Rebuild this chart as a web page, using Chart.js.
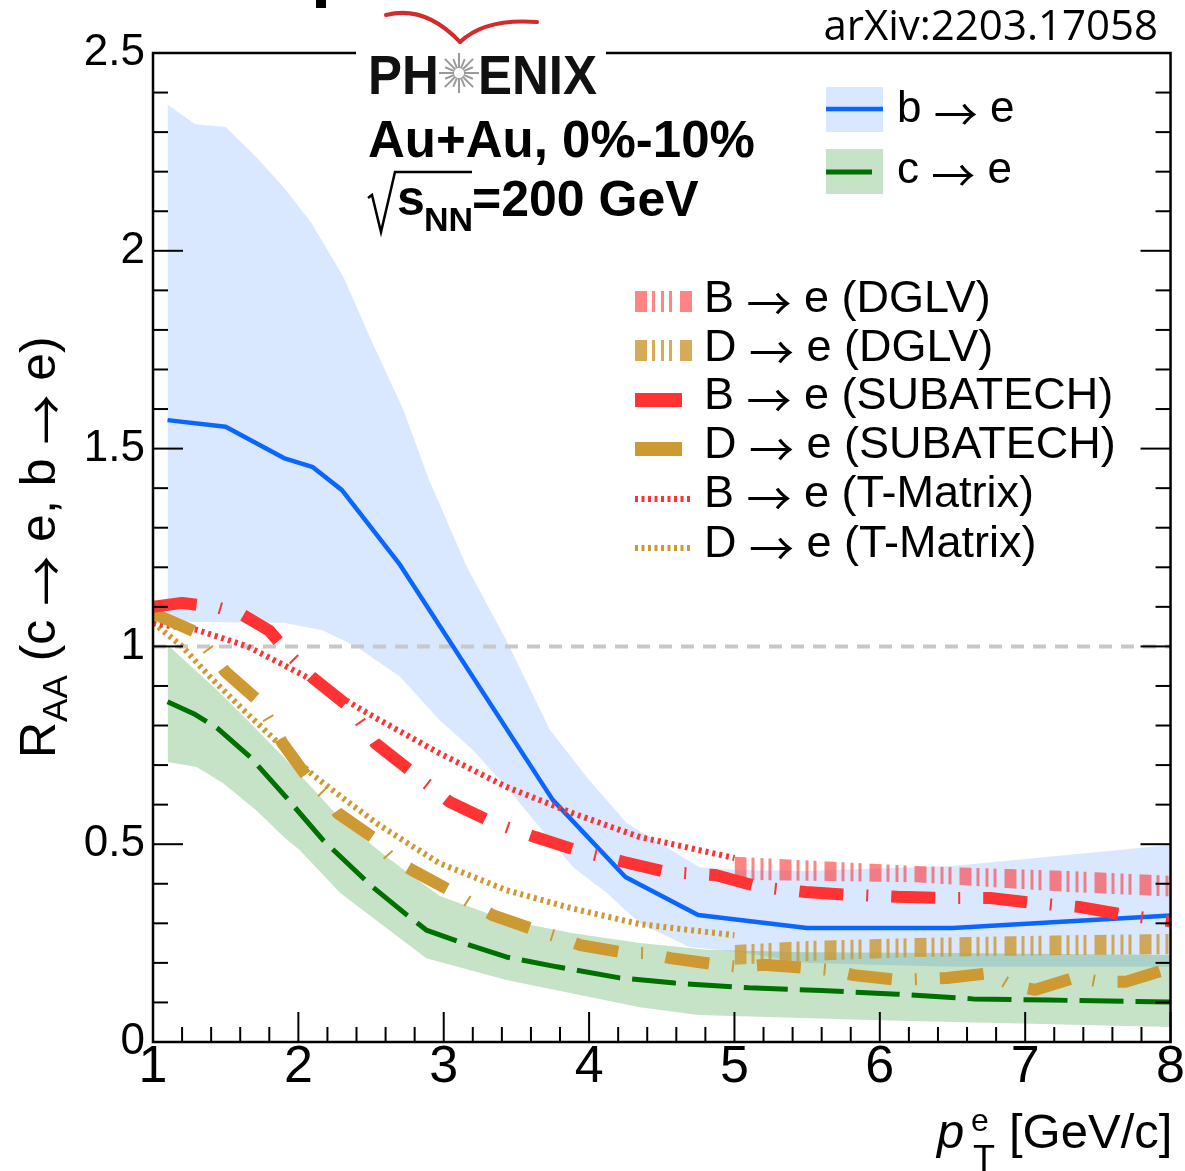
<!DOCTYPE html>
<html><head><meta charset="utf-8">
<script src="https://cdn.jsdelivr.net/npm/chart.js@4.4.0/dist/chart.umd.min.js"></script>
<style>html,body{margin:0;padding:0;background:#fff;}canvas{display:block;}</style>
</head><body>
<canvas id="c" width="1185" height="1171"></canvas>
<script>
// ---------------- data ----------------
const xTickLabels = ['1','2','3','4','5','6','7','8'];
const yTickLabels = ['0','0.5','1','1.5','2','2.5'];

// b -> e measured (PHENIX), central value and band
const bLineX = [1.1,1.5,1.9,2.1,2.3,2.7,3.75,4.25,4.75,5.5,6.5,8];
const bLineY = [1.572,1.555,1.476,1.453,1.395,1.206,0.612,0.417,0.321,0.288,0.288,0.32];
const bBandUpX = [1.1,1.29,1.5,1.71,1.9,2.09,2.31,2.51,2.72,2.9,3.16,3.43,3.73,4.0,4.26,4.76,5.04,5.5,6.5,8];
const bBandUpY = [2.37,2.32,2.313,2.237,2.16,2.07,1.934,1.767,1.6,1.42,1.2,1.016,0.789,0.662,0.553,0.442,0.435,0.432,0.445,0.498];
const bBandLoX = [1.1,1.9,2.17,2.4,2.7,2.97,3.2,3.43,3.66,3.89,4.12,4.35,4.69,5.04,5.5,6.5,8];
const bBandLoY = [1.062,1.06,1.04,0.999,0.923,0.814,0.738,0.645,0.543,0.442,0.377,0.30,0.24,0.227,0.2,0.19,0.19];

// c -> e measured
const cLineX = [1.1,1.28,1.44,1.67,1.92,2.17,2.51,2.75,2.88,3.11,3.43,3.78,4.21,4.59,5.1,5.6,6.12,6.64,7.16,8];
const cLineY = [0.86,0.83,0.794,0.72,0.617,0.51,0.392,0.32,0.283,0.253,0.215,0.19,0.162,0.149,0.137,0.13,0.121,0.109,0.106,0.101];
const cBandUpX = [1.1,1.44,1.67,1.9,2.1,2.3,2.6,2.8,2.97,3.43,3.89,4.35,4.81,5.5,6.5,8];
const cBandUpY = [1.004,0.89,0.806,0.72,0.64,0.56,0.47,0.415,0.37,0.308,0.275,0.25,0.233,0.227,0.225,0.22];
const cBandLoX = [1.1,1.3,1.48,1.71,1.9,2.01,2.29,2.88,3.43,4.35,4.75,6,8];
const cBandLoY = [0.708,0.695,0.655,0.586,0.518,0.485,0.376,0.212,0.157,0.088,0.068,0.055,0.038];

// DGLV bands
const bDglvX = [5,6.25,7.3,8];
const bDglvUp = [0.468,0.445,0.432,0.42];
const bDglvLo = [0.41,0.404,0.379,0.368];
const dDglvX = [5,5.5,6.25,7.3,8];
const dDglvUp = [0.245,0.255,0.263,0.27,0.273];
const dDglvLo = [0.195,0.205,0.215,0.22,0.222];

// SUBATECH
const bSubX = [1.0,1.2,1.45,1.62,1.8,1.95,2.1,2.36,2.53,2.79,3.04,3.33,3.63,3.91,4.24,4.53,4.87,5.17,5.49,5.79,6.12,6.43,6.76,7.07,7.38,7.69,8.0];
const bSubY = [1.10,1.11,1.098,1.079,1.04,0.975,0.92,0.844,0.755,0.68,0.607,0.556,0.518,0.485,0.455,0.43,0.422,0.392,0.379,0.372,0.367,0.364,0.364,0.351,0.341,0.321,0.305];
const dSubX = [1.0,1.29,1.39,1.5,1.72,1.8,1.89,2.06,2.17,2.27,2.51,2.63,2.78,3.06,3.19,3.34,3.63,3.78,3.94,4.24,4.4,4.56,4.87,5.03,5.2,5.5,5.66,5.82,6.12,6.46,6.76,6.9,7.07,7.35,7.52,7.69,8.0];
const dSubY = [1.084,1.037,0.987,0.935,0.864,0.814,0.756,0.67,0.63,0.579,0.518,0.468,0.435,0.38,0.35,0.32,0.283,0.266,0.245,0.226,0.225,0.212,0.196,0.19,0.195,0.187,0.182,0.169,0.157,0.162,0.174,0.144,0.132,0.164,0.152,0.152,0.187];

// T-Matrix
const bTmX = [1.0,1.3,1.65,2.03,2.5,2.97,3.43,3.89,4.35,4.6,5.0];
const bTmY = [1.058,1.042,1.0,0.928,0.826,0.73,0.645,0.578,0.518,0.498,0.465];
const dTmX = [1.0,1.2,1.4,1.62,1.85,2.1,2.33,2.55,2.75,2.97,3.43,3.89,4.35,4.6,5.0];
const dTmY = [1.06,1.0,0.92,0.84,0.76,0.675,0.61,0.55,0.503,0.452,0.384,0.337,0.298,0.287,0.27];

const unityX = [1, 8];
const unityY = [1, 1];

// legend texts: [particle, rest] joined by an arrow
const legendTop = [['b', ' e'], ['c', ' e']];
const legendModels = [['B', ' e (DGLV)'], ['D', ' e (DGLV)'], ['B', ' e (SUBATECH)'], ['D', ' e (SUBATECH)'], ['B', ' e (T-Matrix)'], ['D', ' e (T-Matrix)']];
const ARROW = '\u2192';

// ---------------- styles ----------------
const FONT = "'Liberation Sans', Arial, Helvetica, sans-serif";
const AFONT = "'Noto Sans CJK SC', 'DejaVu Sans', sans-serif";
const BLUE = '#0a66ff', BLUE_BAND = 'rgba(0,102,255,0.15)';
const GREEN = '#007000', GREEN_BAND = 'rgba(0,128,0,0.22)';
const RED = '#ff3333', TAN = '#cc9933';
const PINK_HATCH = 'rgba(255,51,51,0.6)', TAN_HATCH = 'rgba(204,153,51,0.82)';

const pts = (xs, ys) => xs.map((x, i) => ({x, y: ys[i]}));

function hatchPattern(ctx, color, originX) {
  const c = document.createElement('canvas');
  c.width = 45; c.height = 4;
  const g = c.getContext('2d');
  g.fillStyle = color;
  g.fillRect(0, 0, 12, 4);
  g.fillRect(17, 0, 3, 4);
  g.fillRect(26, 0, 3, 4);
  g.fillRect(34, 0, 3, 4);
  const p = ctx.createPattern(c, 'repeat');
  p.setTransform(new DOMMatrix([1, 0, 0, 1, originX, 0]));
  return p;
}
function hatchFor(color) {
  return (c) => {
    const ch = c.chart;
    if (!ch.scales || !ch.scales.x) return color;
    return hatchPattern(ch.ctx, color, ch.scales.x.getPixelForValue(bDglvX[0]));
  };
}

const edge = (data, extra) => Object.assign({
  data, borderColor: 'rgba(0,0,0,0)', borderWidth: 0, pointRadius: 0, fill: false, tension: 0
}, extra);
const curve = (data, color, width, dash, order) => ({
  data, borderColor: color, borderWidth: width, borderDash: dash, pointRadius: 0,
  fill: false, tension: 0, borderCapStyle: 'butt', borderJoinStyle: 'bevel', order
});

const datasets = [
  edge(pts(bBandUpX, bBandUpY), {fill: '+1', backgroundColor: BLUE_BAND, order: 20}),
  edge(pts(bBandLoX, bBandLoY), {order: 20}),
  edge(pts(cBandUpX, cBandUpY), {fill: '+1', backgroundColor: GREEN_BAND, order: 19}),
  edge(pts(cBandLoX, cBandLoY), {order: 19}),
  edge(pts(bDglvX, bDglvUp), {fill: '+1', backgroundColor: hatchFor(PINK_HATCH), order: 18}),
  edge(pts(bDglvX, bDglvLo), {order: 18}),
  edge(pts(dDglvX, dDglvUp), {fill: '+1', backgroundColor: hatchFor(TAN_HATCH), order: 17}),
  edge(pts(dDglvX, dDglvLo), {order: 17}),
  curve(pts(unityX, unityY), '#c8c8c8', 4, [13, 9], 16),
  curve(pts(bLineX, bLineY), BLUE, 4.5, [], 15),
  curve(pts(cLineX, cLineY), GREEN, 5, [44, 12], 14),
  curve(pts(dTmX, dTmY), TAN, 6, [3, 4], 13),
  curve(pts(bTmX, bTmY), RED, 6, [3, 4], 12),
  curve(pts(dSubX, dSubY), TAN, 12, [44, 23, 2, 23], 11),
  curve(pts(bSubX, bSubY), RED, 12, [44, 23, 2, 23], 10)
];

const near = (v, step) => Math.abs(v / step - Math.round(v / step)) < 1e-6;

// draws "X → rest" with a long thin arrow glyph
function arrowText(ctx, first, rest, x, y, size) {
  ctx.font = size + 'px ' + FONT;
  ctx.fillText(first + ' ', x, y);
  x += ctx.measureText(first + ' ').width;
  ctx.font = size + 'px ' + AFONT;
  ctx.fillText(ARROW, x, y + 0.2 * size);
  x += ctx.measureText(ARROW).width;
  ctx.font = size + 'px ' + FONT;
  ctx.fillText(rest, x, y);
  return x + ctx.measureText(rest).width;
}

const decor = {
  id: 'decor',
  afterDraw(chart) {
    const {ctx, chartArea: a, scales: {x, y}} = chart;
    ctx.save();
    const line = (x1, y1, x2, y2) => { ctx.beginPath(); ctx.moveTo(x1, y1); ctx.lineTo(x2, y2); ctx.stroke(); };
    // ticks (inward)
    ctx.strokeStyle = '#000'; ctx.lineWidth = 2; ctx.setLineDash([]);
    y.ticks.forEach(t => {
      const py = y.getPixelForValue(t.value);
      const L = near(t.value, 0.5) ? 30 : 15;
      line(a.left, py, a.left + L, py);
      line(a.right, py, a.right - L, py);
    });
    x.ticks.forEach(t => {
      const px = x.getPixelForValue(t.value);
      const L = near(t.value, 1) ? 30 : 15;
      line(px, a.bottom, px, a.bottom - L);
    });
    // frame
    ctx.lineWidth = 2.5;
    ctx.strokeRect(a.left, a.top, a.right - a.left, a.bottom - a.top);

    ctx.fillStyle = '#000';
    ctx.textBaseline = 'alphabetic';
    ctx.textAlign = 'left';

    // top-left fragment
    ctx.fillRect(316, 0, 10, 8);

    // arXiv
    ctx.font = "42px 'Open Sans', 'Noto Sans', sans-serif";
    ctx.textAlign = 'right';
    ctx.fillText('arXiv:2203.17058', 1158, 40);
    ctx.textAlign = 'left';

    // PHENIX logo
    ctx.fillStyle = '#fff';
    ctx.fillRect(356, 0, 250, 101);
    ctx.strokeStyle = '#d42a2a'; ctx.lineWidth = 4; ctx.lineCap = 'round';
    ctx.beginPath(); ctx.moveTo(386, 15); ctx.quadraticCurveTo(425, 5, 460, 42); ctx.stroke();
    ctx.beginPath(); ctx.moveTo(460, 42); ctx.quadraticCurveTo(485, 18, 537, 22); ctx.stroke();
    ctx.lineCap = 'butt';
    ctx.fillStyle = '#111';
    ctx.font = 'bold 56px ' + FONT;
    ctx.save(); ctx.translate(368, 94); ctx.scale(0.91, 1); ctx.fillText('PH', 0, 0); ctx.restore();
    ctx.save(); ctx.translate(478, 94); ctx.scale(0.91, 1); ctx.fillText('ENIX', 0, 0); ctx.restore();
    ctx.strokeStyle = '#9a9a9a'; ctx.lineWidth = 2;
    for (let k = 0; k < 16; k++) {
      const ang = k * Math.PI / 8;
      const r2 = (k % 2) ? 15 : 20;
      line(459 + 5 * Math.cos(ang), 73 + 5 * Math.sin(ang), 459 + r2 * Math.cos(ang), 73 + r2 * Math.sin(ang));
    }
    ctx.fillStyle = '#000';

    // system labels
    ctx.font = 'bold 51px ' + FONT;
    ctx.fillText('Au+Au, 0%-10%', 368, 157);
    ctx.strokeStyle = '#000'; ctx.lineWidth = 2.5;
    ctx.beginPath(); ctx.moveTo(368, 198); ctx.lineTo(372, 195); ctx.lineTo(381, 232); ctx.lineTo(395, 172); ctx.lineTo(472, 172); ctx.stroke();
    ctx.font = 'bold 50px ' + FONT;
    ctx.fillText('s', 397, 215);
    ctx.font = 'bold 34px ' + FONT;
    ctx.fillText('NN', 424, 231);
    ctx.font = 'bold 50px ' + FONT;
    ctx.fillText('=200 GeV', 472, 216);

    // legend 1
    ctx.fillStyle = BLUE_BAND; ctx.fillRect(826, 87, 57, 45);
    ctx.fillStyle = GREEN_BAND; ctx.fillRect(826, 149, 57, 45);
    ctx.strokeStyle = BLUE; ctx.lineWidth = 4.5; line(826, 109, 883, 109);
    ctx.strokeStyle = GREEN; ctx.lineWidth = 5; line(826, 172, 872, 172);
    ctx.fillStyle = '#000';
    arrowText(ctx, legendTop[0][0], legendTop[0][1], 897, 122, 44);
    arrowText(ctx, legendTop[1][0], legendTop[1][1], 897, 183, 44);

    // legend 2
    const base = [312, 361, 409, 458, 507, 557];
    ctx.fillStyle = hatchPattern(ctx, PINK_HATCH, 635); ctx.fillRect(635, 291, 57, 21);
    ctx.fillStyle = hatchPattern(ctx, TAN_HATCH, 635); ctx.fillRect(635, 340, 57, 21);
    ctx.fillStyle = RED; ctx.fillRect(635, 393, 47, 14);
    ctx.fillStyle = TAN; ctx.fillRect(635, 442, 47, 14);
    ctx.lineWidth = 6; ctx.setLineDash([3, 3.5]);
    ctx.strokeStyle = RED; line(635, 499, 692, 499);
    ctx.strokeStyle = TAN; line(635, 548, 692, 548);
    ctx.setLineDash([]);
    ctx.fillStyle = '#000';
    legendModels.forEach((s, i) => arrowText(ctx, s[0], s[1], 704, base[i], 45));

    // y title (rotated)
    ctx.save();
    ctx.translate(55, 758); ctx.rotate(-Math.PI / 2);
    let px = 0;
    ctx.font = '50px ' + FONT; ctx.fillText('R', px, 0); px += ctx.measureText('R').width;
    ctx.font = '35px ' + FONT; ctx.fillText('AA', px, 12); px += ctx.measureText('AA').width;
    ctx.font = '50px ' + FONT; ctx.fillText(' (', px, 0); px += ctx.measureText(' (').width;
    px = arrowText(ctx, 'c', ' e, ', px, 0, 50);
    px = arrowText(ctx, 'b', ' e)', px, 0, 50);
    ctx.restore();

    // x title
    ctx.font = 'italic 49px ' + FONT; ctx.fillText('p', 937, 1148);
    ctx.font = '32px ' + FONT; ctx.fillText('e', 971, 1131);
    ctx.font = '36px ' + FONT; ctx.fillText('T', 973, 1171);
    ctx.font = '49px ' + FONT; ctx.fillText('[GeV/c]', 1009, 1148);
    ctx.restore();
  }
};

new Chart(document.getElementById('c'), {
  type: 'line',
  data: { datasets },
  options: {
    responsive: false, animation: false, devicePixelRatio: 1,
    layout: { padding: { left: 0, right: 14, top: 53, bottom: 0 } },
    plugins: { legend: { display: false }, tooltip: { enabled: false } },
    scales: {
      x: {
        type: 'linear', min: 1, max: 8,
        grid: { display: false, drawTicks: false }, border: { display: false },
        ticks: {
          stepSize: 0.2, autoSkip: false, maxRotation: 0, minRotation: 0, padding: 0,
          color: '#000', font: { size: 52, family: FONT, lineHeight: 1 },
          callback: (v) => near(v, 1) ? xTickLabels[Math.round(v) - 1] : ''
        },
        afterFit: (s) => { s.height = 129; }
      },
      y: {
        type: 'linear', min: 0, max: 2.5,
        grid: { display: false, drawTicks: false }, border: { display: false },
        ticks: {
          stepSize: 0.1, autoSkip: false, padding: 8,
          color: '#000', font: { size: 44, family: FONT, lineHeight: 1 },
          callback: (v) => near(v, 0.5) ? yTickLabels[Math.round(v / 0.5)] : ''
        },
        afterFit: (s) => { s.width = 153; }
      }
    }
  },
  plugins: [decor]
});
</script>
</body></html>
